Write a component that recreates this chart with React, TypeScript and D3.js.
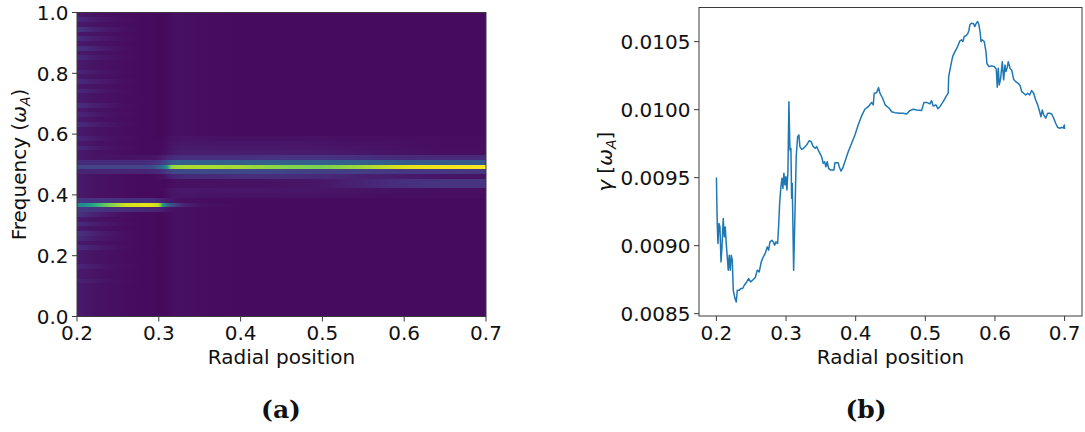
import React from 'react';
import * as d3 from 'd3';

// ---------- heatmap data (panel a) ----------
const radialKnots = [0.2, 0.21, 0.22, 0.24, 0.26, 0.28, 0.29, 0.30, 0.305, 0.31, 0.315, 0.32, 0.33, 0.35, 0.40, 0.45, 0.50, 0.55, 0.60, 0.65, 0.70];
const freqBins = 64;
const backgroundLevel = [0.07, 0.06, 0.05, 0.04, 0.035, 0.03, 0.03, 0.025, 0.025, 0.03, 0.035, 0.04, 0.04, 0.035, 0.03, 0.03, 0.03, 0.03, 0.03, 0.03, 0.03];

const upperModeFreq = 0.492;
const upperMode = [0.2, 0.2, 0.2, 0.2, 0.2, 0.2, 0.22, 0.3, 0.38, 0.5, 0.82, 0.86, 0.87, 0.88, 0.86, 0.82, 0.8, 0.86, 0.95, 0.98, 1.0];
const upperAboveFreq = 0.508;
const upperAbove = [0.12, 0.12, 0.12, 0.12, 0.12, 0.12, 0.13, 0.15, 0.18, 0.22, 0.28, 0.3, 0.3, 0.3, 0.3, 0.3, 0.3, 0.3, 0.28, 0.28, 0.28];
const upperAbove2Freq = 0.523;
const upperAbove2 = [0.06, 0.06, 0.05, 0.05, 0.05, 0.05, 0.05, 0.06, 0.08, 0.1, 0.12, 0.13, 0.14, 0.14, 0.14, 0.15, 0.15, 0.14, 0.12, 0.12, 0.12];
const upperBelowFreq = 0.477;
const upperBelow = [0.1, 0.1, 0.1, 0.1, 0.1, 0.1, 0.1, 0.12, 0.14, 0.17, 0.2, 0.22, 0.22, 0.22, 0.22, 0.2, 0.18, 0.18, 0.16, 0.16, 0.16];

const lowerModeFreq = 0.367;
const lowerMode = [0.45, 0.5, 0.6, 0.8, 0.93, 0.96, 0.96, 0.9, 0.55, 0.35, 0.25, 0.2, 0.1, 0.05, 0.03, 0.03, 0.03, 0.03, 0.03, 0.03, 0.03];
const lowerAboveFreq = 0.383;
const lowerAbove = [0.15, 0.15, 0.15, 0.15, 0.14, 0.14, 0.13, 0.11, 0.09, 0.07, 0.06, 0.05, 0.04, 0.035, 0.03, 0.03, 0.03, 0.03, 0.03, 0.03, 0.03];
const lowerBelowFreq = 0.352;
const lowerBelow = [0.16, 0.16, 0.15, 0.14, 0.13, 0.12, 0.11, 0.1, 0.08, 0.06, 0.05, 0.04, 0.04, 0.035, 0.03, 0.03, 0.03, 0.03, 0.03, 0.03, 0.03];

const sidebandFreqs = [0.43, 0.446];
const sideband = [0.03, 0.03, 0.03, 0.03, 0.03, 0.03, 0.03, 0.03, 0.03, 0.03, 0.03, 0.03, 0.035, 0.04, 0.045, 0.05, 0.06, 0.1, 0.14, 0.15, 0.15];

const haloFreqs = [0.405, 0.42, 0.455, 0.463, 0.54, 0.555, 0.575, 0.59];
const haloWeights = [0.4, 0.6, 0.9, 1.0, 0.9, 0.7, 0.5, 0.3];
const haloLevel = [0, 0, 0, 0, 0, 0, 0, 0.005, 0.01, 0.02, 0.03, 0.035, 0.04, 0.045, 0.05, 0.05, 0.045, 0.03, 0.02, 0.01, 0.01];

const leftStreakFreqs = [0.975, 0.945, 0.915, 0.88, 0.845, 0.80, 0.77, 0.735, 0.70, 0.665, 0.625, 0.585, 0.555, 0.335, 0.305, 0.275, 0.25, 0.22, 0.17, 0.12];
const leftStreakLevels = [0.05, 0.09, 0.06, 0.08, 0.05, 0.04, 0.06, 0.05, 0.07, 0.04, 0.06, 0.04, 0.05, 0.08, 0.06, 0.08, 0.05, 0.06, 0.04, 0.03];
const leftFade = [1, 0.8, 0.55, 0.25, 0.05, 0, 0, 0, 0, 0, 0, 0, 0, 0, 0, 0, 0, 0, 0, 0, 0];

// ---------- growth-rate data (panel b) ----------
const gammaProfile: [number, number][] = [
  [0.2000, 0.009502], [0.2012, 0.009163], [0.2022, 0.009016], [0.2037, 0.009163], [0.2051, 0.009138],
  [0.2066, 0.008881], [0.2080, 0.008991], [0.2098, 0.009200], [0.2113, 0.009065], [0.2127, 0.009138],
  [0.2141, 0.009016], [0.2156, 0.008917], [0.2170, 0.008820], [0.2184, 0.008930], [0.2199, 0.008820],
  [0.2213, 0.008930], [0.2228, 0.008893], [0.2242, 0.008672], [0.2267, 0.008611], [0.2285, 0.008586],
  [0.2300, 0.008672], [0.2329, 0.008672], [0.2349, 0.008685], [0.2377, 0.008685], [0.2400, 0.008709],
  [0.2435, 0.008733], [0.2463, 0.008758], [0.2492, 0.008733], [0.2529, 0.008751], [0.2558, 0.008766],
  [0.2587, 0.008820], [0.2615, 0.008807], [0.2644, 0.008881], [0.2673, 0.008917], [0.2701, 0.008943],
  [0.2730, 0.008991], [0.2750, 0.008967], [0.2769, 0.009028], [0.2797, 0.009040], [0.2816, 0.009028],
  [0.2836, 0.009004], [0.2855, 0.009028], [0.2879, 0.009016], [0.2893, 0.009138], [0.2908, 0.009311],
  [0.2926, 0.009433], [0.2941, 0.009495], [0.2955, 0.009421], [0.2969, 0.009532], [0.2984, 0.009446],
  [0.2998, 0.009507], [0.3012, 0.009409], [0.3027, 0.009543], [0.3041, 0.010059], [0.3056, 0.009703],
  [0.3070, 0.009716], [0.3080, 0.009348], [0.3089, 0.009458], [0.3109, 0.008820], [0.3127, 0.009212],
  [0.3146, 0.009654], [0.3166, 0.009801], [0.3185, 0.009814], [0.3199, 0.009728], [0.3224, 0.009708],
  [0.3252, 0.009716], [0.3295, 0.009740], [0.3333, 0.009772], [0.3361, 0.009764], [0.3390, 0.009728],
  [0.3419, 0.009716], [0.3439, 0.009728], [0.3462, 0.009703], [0.3486, 0.009679], [0.3511, 0.009654],
  [0.3534, 0.009605], [0.3554, 0.009617], [0.3572, 0.009580], [0.3591, 0.009617], [0.3611, 0.009568],
  [0.3640, 0.009556], [0.3687, 0.009556], [0.3702, 0.009610], [0.3749, 0.009610], [0.3764, 0.009580],
  [0.3788, 0.009549], [0.3812, 0.009568], [0.3845, 0.009617], [0.3893, 0.009691], [0.3942, 0.009753],
  [0.3989, 0.009814], [0.4036, 0.009887], [0.4085, 0.009954], [0.4132, 0.010003], [0.4180, 0.010022],
  [0.4229, 0.010052], [0.4252, 0.010035], [0.4266, 0.010121], [0.4300, 0.010125], [0.4329, 0.010162],
  [0.4348, 0.010121], [0.4387, 0.010084], [0.4424, 0.010035], [0.4453, 0.010022], [0.4481, 0.010010],
  [0.4516, 0.009985], [0.4563, 0.009978], [0.4635, 0.009973], [0.4682, 0.009973], [0.4731, 0.009968],
  [0.4778, 0.009993], [0.4826, 0.010003], [0.4875, 0.009998], [0.4946, 0.009993], [0.4980, 0.010052],
  [0.5027, 0.010052], [0.5066, 0.010042], [0.5090, 0.010066], [0.5113, 0.010027], [0.5152, 0.010035],
  [0.5181, 0.010007], [0.5209, 0.010022], [0.5257, 0.010059], [0.5296, 0.010096], [0.5329, 0.010121],
  [0.5335, 0.010243], [0.5363, 0.010317], [0.5392, 0.010390], [0.5425, 0.010427], [0.5464, 0.010464],
  [0.5497, 0.010506], [0.5521, 0.010513], [0.5540, 0.010501], [0.5558, 0.010538], [0.5583, 0.010543],
  [0.5607, 0.010557], [0.5626, 0.010582], [0.5640, 0.010624], [0.5664, 0.010636], [0.5693, 0.010631],
  [0.5712, 0.010611], [0.5731, 0.010636], [0.5751, 0.010648], [0.5770, 0.010624], [0.5789, 0.010563],
  [0.5799, 0.010501], [0.5817, 0.010513], [0.5846, 0.010501], [0.5871, 0.010427], [0.5885, 0.010337],
  [0.5914, 0.010317], [0.5953, 0.010322], [0.5990, 0.010317], [0.6019, 0.010298], [0.6033, 0.010165],
  [0.6048, 0.010305], [0.6062, 0.010182], [0.6082, 0.010231], [0.6105, 0.010353], [0.6125, 0.010219],
  [0.6144, 0.010329], [0.6158, 0.010280], [0.6177, 0.010312], [0.6191, 0.010353], [0.6215, 0.010305],
  [0.6240, 0.010292], [0.6268, 0.010224], [0.6297, 0.010206], [0.6335, 0.010194], [0.6363, 0.010175],
  [0.6383, 0.010133], [0.6412, 0.010121], [0.6441, 0.010108], [0.6470, 0.010121], [0.6498, 0.010108],
  [0.6527, 0.010140], [0.6556, 0.010121], [0.6585, 0.010071], [0.6614, 0.010035], [0.6642, 0.009985],
  [0.6661, 0.009948], [0.6680, 0.009998], [0.6700, 0.009961], [0.6729, 0.009937], [0.6757, 0.009973],
  [0.6786, 0.009973], [0.6815, 0.009968], [0.6843, 0.009937], [0.6872, 0.009900], [0.6901, 0.009870],
  [0.6930, 0.009863], [0.6958, 0.009870], [0.6981, 0.009865], [0.6996, 0.009887], [0.7000, 0.009858],
];

const heatXTicks = [0.2, 0.3, 0.4, 0.5, 0.6, 0.7];
const heatYTicks = [0.0, 0.2, 0.4, 0.6, 0.8, 1.0];
const gammaXTicks = [0.2, 0.3, 0.4, 0.5, 0.6, 0.7];
const gammaYTicks = [0.0085, 0.009, 0.0095, 0.01, 0.0105];

const FONT = "'DejaVu Sans', sans-serif";
const AXIS = '#3a3a3a';

function buildRows(): number[][] {
  const rows: number[][] = [];
  const binOf = (f: number) => Math.floor(f * freqBins);
  for (let i = 0; i < freqBins; i++) {
    rows.push(backgroundLevel.slice());
  }
  haloFreqs.forEach((f, j) => {
    const r = rows[binOf(f)];
    haloLevel.forEach((h, k) => (r[k] += h * haloWeights[j]));
  });
  leftStreakFreqs.forEach((f, j) => {
    const r = rows[binOf(f)];
    leftFade.forEach((w, k) => (r[k] = Math.max(r[k], backgroundLevel[k] + leftStreakLevels[j] * w)));
  });
  const put = (f: number, vals: number[]) => {
    const r = rows[binOf(f)];
    vals.forEach((v, k) => (r[k] = Math.max(r[k], v)));
  };
  sidebandFreqs.forEach((f) => put(f, sideband));
  put(upperAbove2Freq, upperAbove2);
  put(upperAboveFreq, upperAbove);
  put(upperBelowFreq, upperBelow);
  put(upperModeFreq, upperMode);
  put(lowerAboveFreq, lowerAbove);
  put(lowerBelowFreq, lowerBelow);
  put(lowerModeFreq, lowerMode);
  return rows;
}

export default function App() {
  // panel a
  const hx = d3.scaleLinear().domain([0.2, 0.7]).range([77, 486]);
  const hy = d3.scaleLinear().domain([0, 1]).range([316.5, 12.5]);
  // panel b
  const gx = d3.scaleLinear().domain([0.175, 0.725]).range([699, 1082]);
  const ext = d3.extent(gammaProfile, (d) => d[1]) as [number, number];
  const pad = (ext[1] - ext[0]) * 0.05;
  const gy = d3.scaleLinear().domain([ext[0] - pad, ext[1] + pad]).range([316, 7.5]);

  const rows = buildRows();
  const x0 = hx(0.2);
  const wHeat = hx(0.7) - hx(0.2);

  const line = d3
    .line<[number, number]>()
    .x((d) => gx(d[0]))
    .y((d) => gy(d[1]));

  const fmt1 = d3.format('.1f');
  const fmt4 = d3.format('.4f');

  return (
    <svg width={1085} height={432} style={{ position: 'absolute', left: 0, top: 0, background: '#fff' }} fontFamily={FONT}>
      <defs>
        {rows.map((r, i) => (
          <linearGradient key={i} id={`row${i}`} gradientUnits="userSpaceOnUse" x1={hx(0.2)} x2={hx(0.7)} y1={0} y2={0}>
            {r.map((v, k) => (
              <stop key={k} offset={(hx(radialKnots[k]) - x0) / wHeat} stopColor={d3.interpolateViridis(Math.min(1, v))} />
            ))}
          </linearGradient>
        ))}
        <clipPath id="clipB">
          <rect x={gx.range()[0]} y={gy.range()[1]} width={gx.range()[1] - gx.range()[0]} height={gy.range()[0] - gy.range()[1]} />
        </clipPath>
      </defs>

      {/* ---------- panel a ---------- */}
      <g>
        {rows.map((_, i) => {
          const yTop = Math.round(hy((i + 1) / freqBins));
          const yBot = Math.round(hy(i / freqBins));
          return <rect key={i} x={x0} y={yTop} width={wHeat} height={yBot - yTop} fill={`url(#row${i})`} shapeRendering="crispEdges" />;
        })}
        <rect x={hx(0.2)} y={hy(1)} width={wHeat} height={hy(0) - hy(1)} fill="none" stroke={AXIS} strokeWidth={1} />
        {heatXTicks.map((t) => (
          <g key={t}>
            <line x1={hx(t)} x2={hx(t)} y1={hy(0)} y2={hy(0) + 5} stroke={AXIS} />
            <text x={hx(t)} y={340} textAnchor="middle" fontSize={20} fill="#111">{fmt1(t)}</text>
          </g>
        ))}
        {heatYTicks.map((t) => (
          <g key={t}>
            <line x1={hx(0.2) - 5} x2={hx(0.2)} y1={hy(t)} y2={hy(t)} stroke={AXIS} />
            <text x={hx(0.2) - 8.5} y={hy(t) + 7.3} textAnchor="end" fontSize={20} fill="#111">{fmt1(t)}</text>
          </g>
        ))}
        <text x={(hx(0.2) + hx(0.7)) / 2} y={363.5} textAnchor="middle" fontSize={20} fill="#111">Radial position</text>
        <text transform={`translate(26,${(hy(0) + hy(1)) / 2}) rotate(-90)`} textAnchor="middle" fontSize={20} fill="#111">
          Frequency (<tspan fontStyle="italic">ω</tspan>
          <tspan fontStyle="italic" fontSize={14} dy={4}>A</tspan>
          <tspan dy={-4}>)</tspan>
        </text>
      </g>

      {/* ---------- panel b ---------- */}
      <g>
        <path d={line(gammaProfile) || ''} fill="none" stroke="#1f77b4" strokeWidth={1.5} strokeLinejoin="round" clipPath="url(#clipB)" />
        <rect x={gx.range()[0]} y={gy.range()[1]} width={gx.range()[1] - gx.range()[0]} height={gy.range()[0] - gy.range()[1]} fill="none" stroke={AXIS} strokeWidth={1} />
        {gammaXTicks.map((t) => (
          <g key={t}>
            <line x1={gx(t)} x2={gx(t)} y1={gy.range()[0]} y2={gy.range()[0] + 5} stroke={AXIS} />
            <text x={gx(t)} y={340} textAnchor="middle" fontSize={20} fill="#111">{fmt1(t)}</text>
          </g>
        ))}
        {gammaYTicks.map((t) => (
          <g key={t}>
            <line x1={gx.range()[0] - 5} x2={gx.range()[0]} y1={gy(t)} y2={gy(t)} stroke={AXIS} />
            <text x={gx.range()[0] - 8.5} y={gy(t) + 7.3} textAnchor="end" fontSize={20} fill="#111">{fmt4(t)}</text>
          </g>
        ))}
        <text x={(gx.range()[0] + gx.range()[1]) / 2} y={363.5} textAnchor="middle" fontSize={20} fill="#111">Radial position</text>
        <text transform={`translate(612,${(gy.range()[0] + gy.range()[1]) / 2}) rotate(-90)`} textAnchor="middle" fontSize={20} fill="#111">
          <tspan fontStyle="italic">γ</tspan> [<tspan fontStyle="italic">ω</tspan>
          <tspan fontStyle="italic" fontSize={14} dy={4}>A</tspan>
          <tspan dy={-4}>]</tspan>
        </text>
      </g>

      {/* captions */}
      <text x={281} y={418} textAnchor="middle" fontSize={25} fontWeight="bold" fontFamily="'DejaVu Serif', serif" fill="#111">(a)</text>
      <text x={866} y={418} textAnchor="middle" fontSize={25} fontWeight="bold" fontFamily="'DejaVu Serif', serif" fill="#111">(b)</text>
    </svg>
  );
}
